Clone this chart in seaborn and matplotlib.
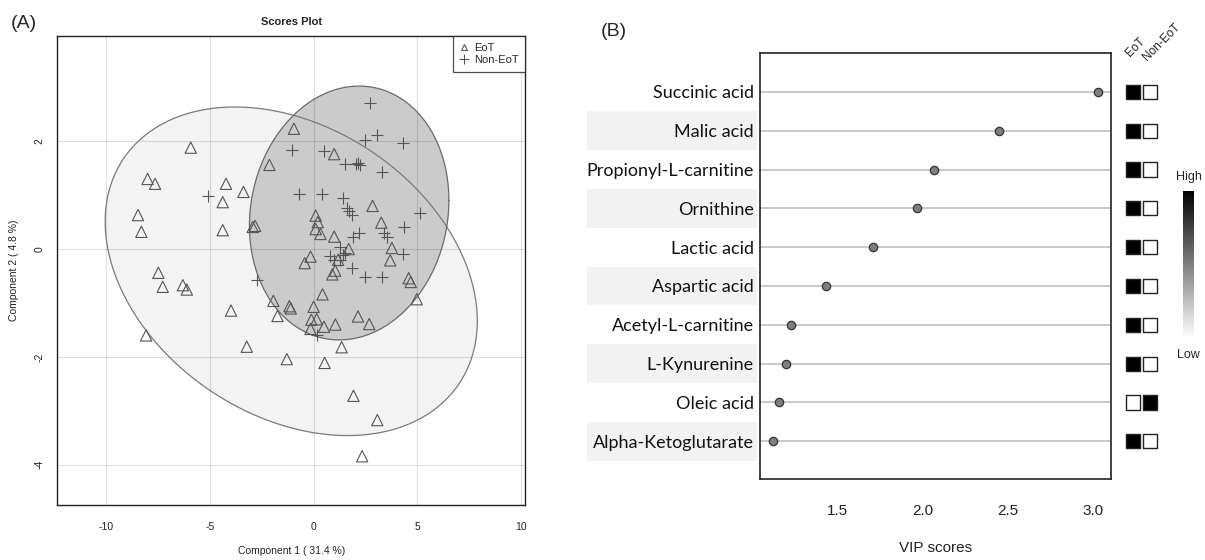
import numpy as np
import pandas as pd
import matplotlib
matplotlib.use("Agg")
import matplotlib.pyplot as plt
import seaborn as sns
from matplotlib.lines import Line2D
from matplotlib.patches import Rectangle
from matplotlib.transforms import blended_transform_factory
from matplotlib.cm import ScalarMappable

# ---------------- data ----------------
eot_x = [-0.95, -5.92, -8.00, -7.64, -4.22, -3.38, -4.38, -8.46, -8.30, -4.38,
         -2.93, -2.82, -2.13, 0.99, 0.10, 0.20, 0.10, 0.33, 0.99, -0.15,
         -0.43, -7.48, -7.27, -6.30, -6.11, -8.07, -3.98, -3.22, -1.29, 0.53,
         1.35, -1.94, -1.17, -1.10, -1.74, 0.43, 0.00, -0.11, 0.15, -0.15,
         0.50, 1.05, 2.84, 3.26, 3.77, 3.69, 1.69, 1.18, 1.04, 0.90,
         4.58, 4.68, 4.97, 2.14, 2.68, 1.92, 3.07, 2.34]
eot_y = [2.23, 1.88, 1.30, 1.21, 1.21, 1.06, 0.87, 0.63, 0.32, 0.35,
         0.41, 0.43, 1.56, 1.76, 0.62, 0.50, 0.37, 0.28, 0.23, -0.14,
         -0.26, -0.44, -0.70, -0.67, -0.75, -1.60, -1.14, -1.81, -2.04, -2.11,
         -1.82, -0.96, -1.06, -1.10, -1.24, -0.84, -1.07, -1.31, -1.30, -1.48,
         -1.44, -1.40, 0.80, 0.49, 0.02, -0.21, 0.00, -0.20, -0.40, -0.47,
         -0.54, -0.61, -0.93, -1.25, -1.39, -2.72, -3.17, -3.84]
non_x = [2.72, 3.05, 2.48, 4.33, -1.02, 0.52, 1.50, 2.05, 2.15, 2.25,
         3.29, -5.07, -0.71, 0.42, 1.42, 1.60, 1.72, 1.84, 5.13, 4.35,
         2.20, 1.92, 3.38, 3.53, 4.33, 1.28, 1.52, 0.80, 0.99, 1.28,
         1.41, 1.84, 2.48, 3.29, -2.74, 0.16]
non_y = [2.70, 2.12, 2.02, 1.96, 1.84, 1.82, 1.58, 1.58, 1.60, 1.56,
         1.43, 0.98, 1.03, 1.03, 0.94, 0.76, 0.70, 0.64, 0.66, 0.41,
         0.30, 0.23, 0.29, 0.22, -0.09, 0.04, -0.08, -0.13, -0.20, -0.20,
         -0.11, -0.35, -0.52, -0.52, -0.57, -1.60]
groups = ["EoT", "Non-EoT"]
x_ticks = [-10, -5, 0, 5, 10]
y_ticks = [-4, -2, 0, 2]

metabolites = ["Succinic acid", "Malic acid", "Propionyl-L-carnitine", "Ornithine",
               "Lactic acid", "Aspartic acid", "Acetyl-L-carnitine", "L-Kynurenine",
               "Oleic acid", "Alpha-Ketoglutarate"]
vip_scores = [3.03, 2.45, 2.07, 1.97, 1.71, 1.43, 1.23, 1.20, 1.155, 1.12]
eot_level = ["High", "High", "High", "High", "High", "High", "High", "High", "Low", "High"]
non_eot_level = ["Low", "Low", "Low", "Low", "Low", "Low", "Low", "Low", "High", "Low"]
vip_ticks = [1.5, 2.0, 2.5, 3.0]

# ---------------- style ----------------
sns.set_style("white")
plt.rcParams["font.family"] = ["Liberation Sans", "DejaVu Sans"]
plt.rcParams["axes.unicode_minus"] = False

W, H = 1205, 560
fig = plt.figure(figsize=(W / 100, H / 100), dpi=100)


def box(l, t, r, b):
    return [l / W, 1 - b / H, (r - l) / W, (b - t) / H]


def fx(px):
    return px / W


def fy(py):
    return 1 - py / H


# ---------------- panel A ----------------
axA = fig.add_axes(box(57.3, 36, 525.3, 505.3))
dfA = pd.DataFrame({"x": eot_x + non_x, "y": eot_y + non_y,
                    "group": [groups[0]] * len(eot_x) + [groups[1]] * len(non_x)})

t = np.linspace(0, 2 * np.pi, 200)
circle = np.vstack([np.cos(t), np.sin(t)])
ell_style = {"EoT": ("#f3f3f3", "#7a7a7a"), "Non-EoT": ("#cbcbcb", "#6a6a6a")}
ells = {}
for g in groups:
    sub = dfA[dfA["group"] == g][["x", "y"]].to_numpy()
    mu = sub.mean(axis=0)
    cov = np.cov(sub.T)
    L = np.linalg.cholesky(cov)
    pts = mu[:, None] + np.sqrt(5.991) * L @ circle
    ells[g] = pts
for g in groups:
    axA.fill(ells[g][0], ells[g][1], color=ell_style[g][0], zorder=1, lw=0)
for g in groups:
    axA.plot(ells[g][0], ells[g][1], color=ell_style[g][1], lw=0.9, zorder=2.6)

sns.scatterplot(data=dfA[dfA["group"] == "EoT"], x="x", y="y", marker="^", s=66,
                facecolor="none", edgecolor="#555555", linewidth=0.8, ax=axA,
                zorder=3, legend=False)
sns.scatterplot(data=dfA[dfA["group"] == "Non-EoT"], x="x", y="y", marker="+", s=80,
                color="#555555", linewidth=0.8, ax=axA, zorder=3, legend=False)

axA.set_xlim(-12.35, 10.2)
axA.set_ylim(-4.75, 3.95)
axA.set_xticks(x_ticks)
axA.set_yticks(y_ticks)
axA.set_xticklabels([str(v) for v in x_ticks])
axA.set_yticklabels([str(v) for v in y_ticks])
axA.set_axisbelow(False)
axA.grid(True, color="black", alpha=0.12, lw=0.8)
axA.set_xlabel("")
axA.set_ylabel("")
axA.tick_params(axis="both", direction="out", length=5, width=0.8, color="#333333",
                labelsize=7.5, labelcolor="#222222")
axA.tick_params(axis="x", pad=7)
axA.tick_params(axis="y", pad=4)
for lab in axA.get_yticklabels():
    lab.set_rotation(90)
    lab.set_va("center")
for s in axA.spines.values():
    s.set_visible(True)
    s.set_color("#222222")
    s.set_linewidth(1.0)

leg_handles = [Line2D([], [], marker="^", ls="none", mfc="none", mec="#555555", ms=4.5, mew=0.8),
               Line2D([], [], marker="+", ls="none", color="#555555", ms=6.5, mew=0.8)]
leg = axA.legend(leg_handles, groups, loc="upper right", fontsize=8, frameon=True,
                 fancybox=False, borderaxespad=0, handlelength=0.8, handletextpad=0.5,
                 borderpad=0.6, labelspacing=0.2)
leg.get_frame().set_edgecolor("#222222")
leg.get_frame().set_linewidth(0.9)

fig.text(fx(291.3), fy(22), "Scores Plot", ha="center", va="center",
         fontsize=8, fontweight="bold", color="#222222")
fig.text(fx(291.3), fy(551), "Component 1 ( 31.4 %)", ha="center", va="center",
         fontsize=7.5, color="#222222")
fig.text(fx(14), fy(270.6), "Component 2 ( 4.8 %)", ha="center", va="center",
         fontsize=7.5, color="#222222", rotation=90)
fig.text(fx(24), fy(23), "(A)", ha="center", va="center", fontsize=14)
fig.text(fx(614), fy(31), "(B)", ha="center", va="center", fontsize=14)

# ---------------- panel B ----------------
axB = fig.add_axes(box(760, 52.7, 1111, 479.3))
rows = list(range(len(metabolites)))
dfB = pd.DataFrame({"metabolite": metabolites, "vip": vip_scores, "row": rows})
for r in rows:
    axB.axhline(r, color="#c4c4c4", lw=1.3, zorder=1)
sns.scatterplot(data=dfB, x="vip", y="row", color="#7f7f7f", edgecolor="#333333",
                s=36, linewidth=0.9, ax=axB, zorder=3, legend=False)
axB.set_xlim(1.045, 3.108)
axB.set_ylim(9.98, -1.01)
axB.set_xticks(vip_ticks)
axB.set_xticklabels([f"{v:.1f}" for v in vip_ticks])
axB.set_yticks(rows)
axB.set_yticklabels(metabolites, fontfamily=["Lato", "DejaVu Sans"], fontsize=13)
axB.tick_params(axis="y", length=0, pad=4.5, labelcolor="#111111")
axB.tick_params(axis="x", direction="out", length=6.5, width=1.0, color="#333333",
                labelsize=11, pad=11, labelcolor="#222222")
axB.set_xlabel("")
axB.set_ylabel("")
for s in axB.spines.values():
    s.set_visible(True)
    s.set_color("#222222")
    s.set_linewidth(1.2)
trB = blended_transform_factory(axB.transAxes, axB.transData)
for r in rows[1::2]:
    axB.add_patch(Rectangle((-0.494, r - 0.5), 0.485, 1.0, transform=trB,
                            facecolor="#f2f2f2", edgecolor="none", clip_on=False, zorder=0))
fig.text(fx(935.5), fy(548), "VIP scores", ha="center", va="center", fontsize=11,
         color="#222222")

# heat squares
axH = fig.add_axes(box(1116, 52.7, 1166, 479.3))
dfH = pd.DataFrame({"col": [0] * len(rows) + [1] * len(rows),
                    "row": rows + rows,
                    "level": eot_level + non_eot_level})
sns.scatterplot(data=dfH, x="col", y="row", hue="level", palette={"High": "black", "Low": "white"},
                marker="s", s=104, edgecolor="#222222", linewidth=1.0, ax=axH, legend=False)
axH.set_xlim(-1.0, 1.94)
axH.set_ylim(9.98, -1.01)
axH.axis("off")
trH = blended_transform_factory(axH.transData, axH.transAxes)
for i, g in enumerate(groups):
    axH.text(i - 0.05, 0.985 - 0.01 * i, g, transform=trH, rotation=45, rotation_mode="anchor",
             ha="left", va="bottom", fontsize=8.5, color="#222222")

# colour bar
cax = fig.add_axes(box(1183, 190.7, 1194, 338))
cb = fig.colorbar(ScalarMappable(cmap="gray_r"), cax=cax)
cb.set_ticks([])
cb.outline.set_visible(False)
fig.text(fx(1188.5), fy(177), "High", ha="center", va="center", fontsize=9, color="#222222")
fig.text(fx(1188.5), fy(355), "Low", ha="center", va="center", fontsize=9, color="#222222")

fig.savefig("out.png", dpi=100)
